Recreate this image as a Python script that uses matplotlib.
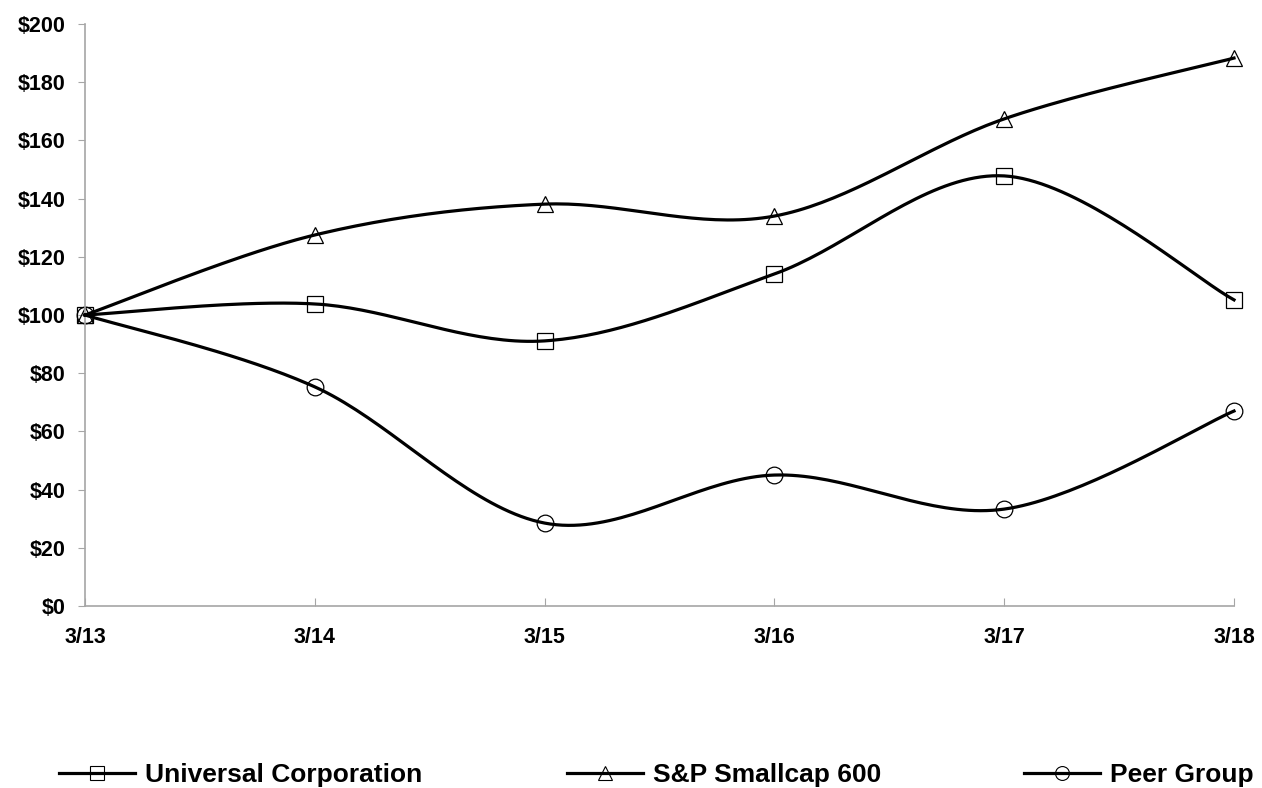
import matplotlib.pyplot as plt
import numpy as np
from matplotlib.lines import Line2D

plt.rcParams['font.family'] = ['Liberation Sans', 'DejaVu Sans']
plt.rcParams['font.weight'] = 'bold'

years = ['3/13', '3/14', '3/15', '3/16', '3/17', '3/18']
universal = [100, 103.8, 91.1, 114.1, 147.8, 105.2]
smallcap = [100, 127.5, 138.1, 134.0, 167.4, 188.3]
peer = [100, 75.3, 28.5, 45.0, 33.3, 67.0]

names = ['Universal Corporation', 'S&P Smallcap 600', 'Peer Group']
markers = ['s', '^', 'o']
gray = '#a6a6a6'


def smooth(y, n=40):
    # excel-like bezier smoothing through the points
    y = np.asarray(y, float)
    x = np.arange(len(y), dtype=float)
    xs, ys = [], []
    for i in range(len(y) - 1):
        i0 = max(i - 1, 0)
        i3 = min(i + 2, len(y) - 1)
        p0 = np.array([x[i], y[i]])
        p3 = np.array([x[i + 1], y[i + 1]])
        c1 = p0 + (np.array([x[i + 1], y[i + 1]]) - np.array([x[i0], y[i0]])) / 6
        c2 = p3 - (np.array([x[i3], y[i3]]) - np.array([x[i], y[i]])) / 6
        t = np.linspace(0, 1, n)[:, None]
        pts = (1 - t) ** 3 * p0 + 3 * (1 - t) ** 2 * t * c1 + 3 * (1 - t) * t ** 2 * c2 + t ** 3 * p3
        xs.extend(pts[:, 0])
        ys.extend(pts[:, 1])
    return xs, ys


fig = plt.figure(figsize=(12.62, 7.88), dpi=100)
ax = fig.add_axes([85 / 1262, 1 - 606 / 788, 1149 / 1262, 582 / 788])

for vals, m in zip([universal, smallcap, peer], markers):
    ax.plot(np.arange(len(vals)), vals, linestyle='none', marker=m, markersize=12,
            markerfacecolor='none', markeredgecolor='black', markeredgewidth=0.9,
            zorder=2, clip_on=False)
    sx, sy = smooth(vals)
    ax.plot(sx, sy, color='black', linewidth=2.3, zorder=3, clip_on=False)

ax.set_xlim(0, len(years) - 1)
ax.set_ylim(0, 200)
ax.set_xticks(range(len(years)))
ax.set_xticklabels(years, fontsize=15.5, fontweight='bold')
ax.set_yticks(range(0, 201, 20))
ax.set_yticklabels(['$%d' % v for v in range(0, 201, 20)], fontsize=15.5, fontweight='bold')
ax.tick_params(axis='x', direction='in', length=6, color=gray, pad=15)
ax.tick_params(axis='y', direction='out', length=5, color=gray, pad=9)
for s in ['top', 'right']:
    ax.spines[s].set_visible(False)
for s in ['left', 'bottom']:
    ax.spines[s].set_color(gray)
    ax.spines[s].set_linewidth(1.2)

# legend, three entries spread across the bottom
starts = [59, 567, 1024]
for name, m, x0 in zip(names, markers, starts):
    h = Line2D([], [], color='black', linewidth=2.3, marker=m, markersize=10,
               markerfacecolor='none', markeredgecolor='black', markeredgewidth=0.8)
    fig.legend([h], [name], loc='center left', bbox_to_anchor=(x0 / 1262, 1 - 775 / 788),
               frameon=False, borderpad=0, borderaxespad=0, handlelength=2.88,
               handletextpad=0.38, prop={'weight': 'bold', 'size': 19})

fig.savefig('out.png', dpi=100)
